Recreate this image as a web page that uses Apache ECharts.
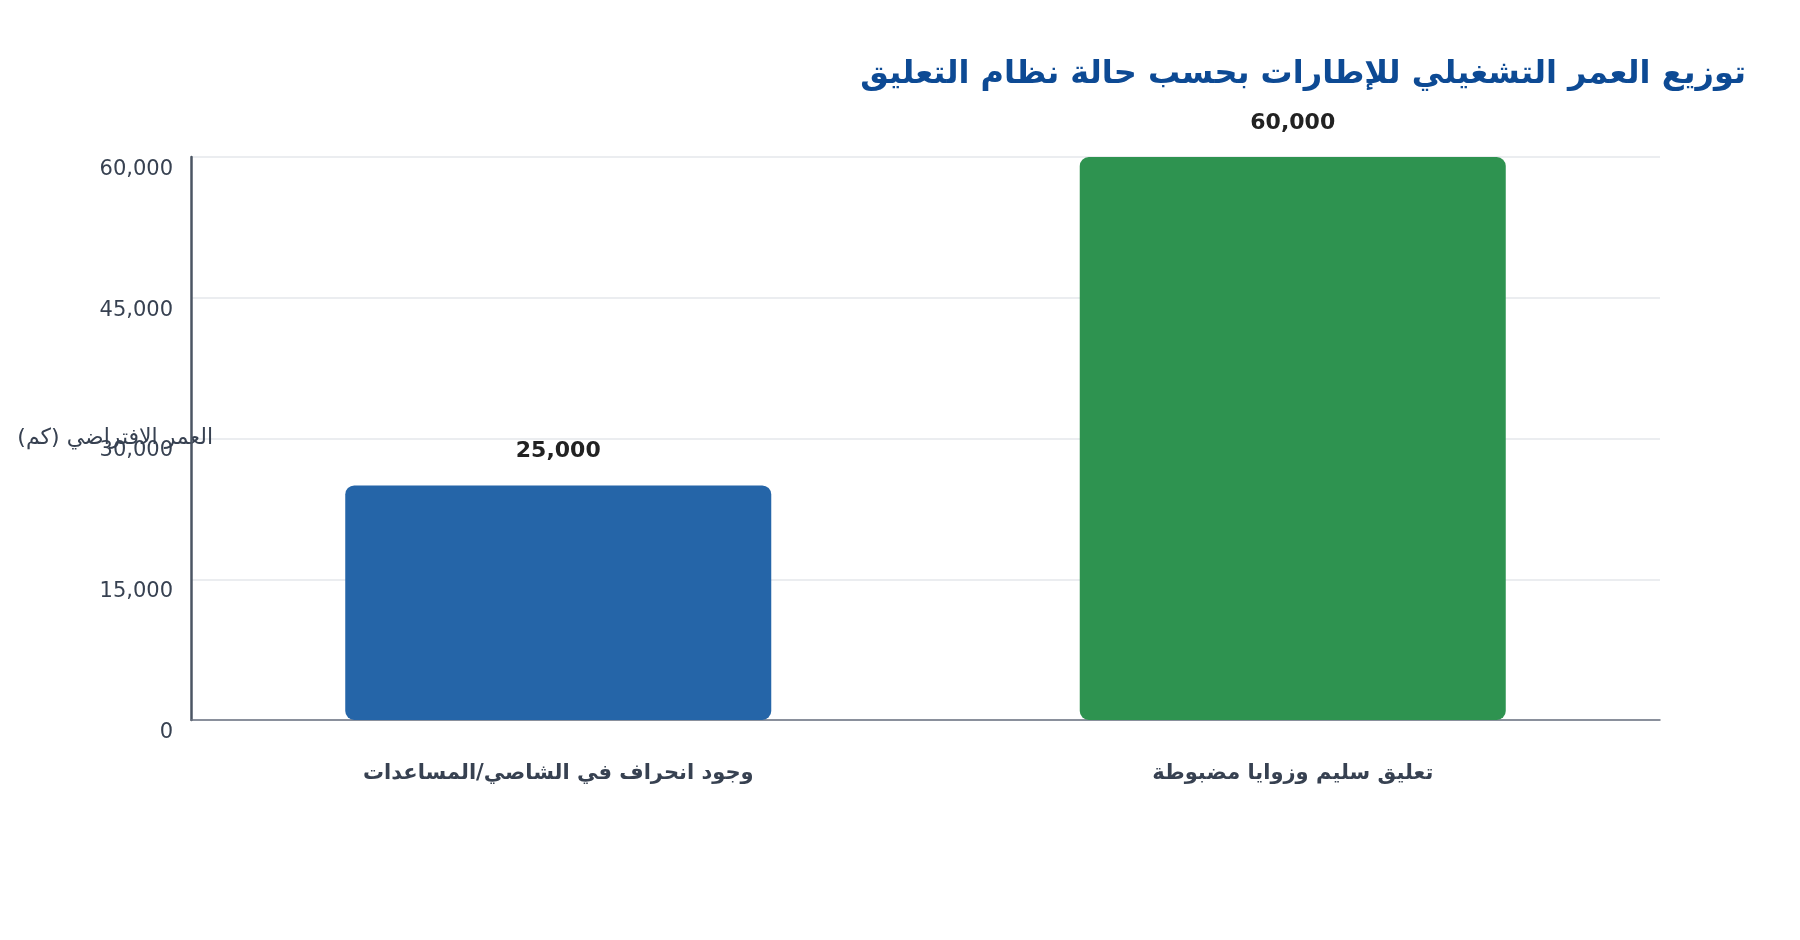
<!DOCTYPE html>
<html>
<head>
<meta charset="utf-8">
<script src="https://cdn.jsdelivr.net/npm/echarts@6/dist/echarts.min.js"></script>
<style>
  html, body { margin: 0; padding: 0; background: #fff; }
  #main { width: 1800px; height: 940px; }
</style>
</head>
<body>
<div id="main"></div>
<script>
// البيانات
var categories = ['وجود انحراف في الشاصي/المساعدات', 'تعليق سليم وزوايا مضبوطة'];
var lifeKm = [25000, 60000];
var barColors = ['#2565a8', '#2e9350'];

var chart = echarts.init(document.getElementById('main'));

var option = {
    backgroundColor: '#ffffff',
    textStyle: { fontFamily: 'DejaVu Sans' },
    title: {
        text: 'توزيع العمر التشغيلي للإطارات بحسب حالة نظام التعليق',
        right: 49,
        top: 54,
        textStyle: {
            color: '#0d4a94',
            fontSize: 32,
            fontWeight: 'bold',
            fontFamily: 'DejaVu Sans'
        }
    },
    grid: {
        left: 191,
        right: 140,
        top: 157,
        bottom: 220,
        containLabel: false,
        outerBoundsMode: 'none'
    },
    xAxis: {
        type: 'category',
        data: categories,
        axisLine: { lineStyle: { color: '#6b7280', width: 1.5 } },
        axisTick: { show: false },
        axisLabel: {
            margin: 43,
            color: '#374151',
            fontSize: 21,
            fontWeight: 'bold'
        }
    },
    yAxis: {
        type: 'value',
        min: 0,
        max: 60000,
        interval: 15000,
        name: 'العمر الافتراضي (كم)',
        nameLocation: 'middle',
        nameRotate: 0,
        nameGap: -22,
        nameMoveOverlap: false,
        nameTextStyle: {
            color: '#374151',
            fontSize: 22,
            align: 'right',
            verticalAlign: 'middle'
        },
        axisLine: { show: true, lineStyle: { color: '#4b5563', width: 2.5 } },
        axisTick: { show: false },
        splitLine: { lineStyle: { color: '#e5e7eb', width: 1.5 } },
        axisLabel: {
            margin: 18,
            color: '#374151',
            fontSize: 21,
            verticalAlign: 'top',
            padding: [2, 0, 0, 0],
            formatter: function (v) {
                return v.toLocaleString('en-US');
            }
        }
    },
    series: [{
        type: 'bar',
        barWidth: '58%',
        data: lifeKm.map(function (v, i) {
            return { value: v, itemStyle: { color: barColors[i] } };
        }),
        itemStyle: { borderRadius: 9 },
        label: {
            show: true,
            position: 'top',
            distance: 23,
            color: '#222222',
            fontSize: 22,
            fontWeight: 'bold',
            formatter: function (p) {
                return p.value.toLocaleString('en-US');
            }
        }
    }]
};

chart.setOption(option);
</script>
</body>
</html>
